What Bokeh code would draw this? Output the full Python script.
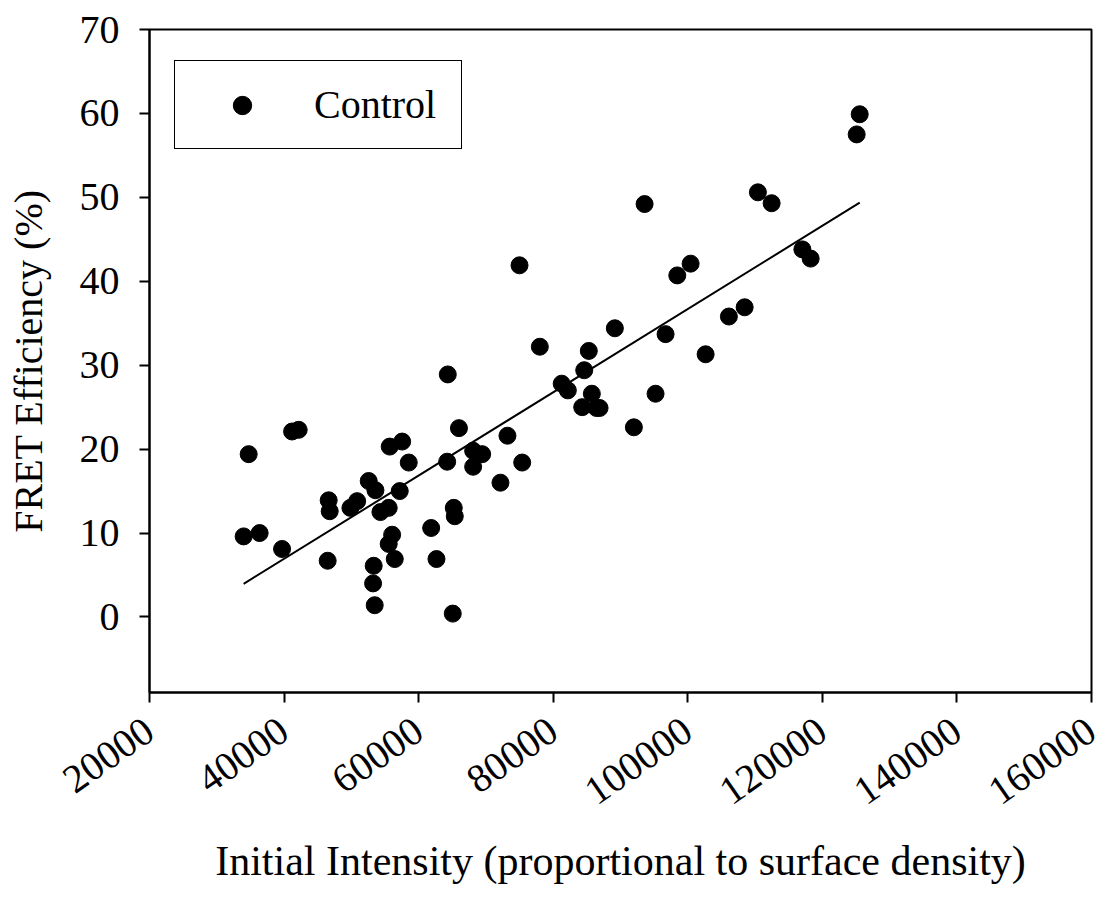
import numpy as np
from bokeh.plotting import figure
from bokeh.models import Range1d, FixedTicker, Legend, LegendItem, NumeralTickFormatter
from bokeh.embed import file_html
from bokeh.resources import INLINE

# ---- data ----
intensity = [33990, 34740, 36370, 39700, 41190, 42170, 46480, 46630, 46780, 49860,
             50860, 52580, 53580, 53320, 53230, 53470, 54320, 55550, 55700, 55550,
             56060, 56450, 57190, 57550, 58530, 61860, 62650, 64330, 64240, 65220,
             65370, 65070, 65990, 68100, 68100, 69440, 72160, 73200, 74990, 75390,
             78010, 81260, 82170, 84310, 84610, 85290, 85740, 86440, 86890, 89160,
             91990, 93580, 95210, 96700, 98440, 100420, 102650, 106110, 108450, 110420,
             112460, 117030, 118260, 125100, 125550]
fret = [9.6, 19.4, 10.0, 8.1, 22.1, 22.3, 6.7, 13.9, 12.6, 13.0,
        13.8, 16.2, 15.1, 6.1, 4.0, 1.4, 12.5, 13.0, 20.3, 8.7,
        9.8, 6.9, 15.0, 20.9, 18.4, 10.6, 6.9, 28.9, 18.5, 13.0,
        12.0, 0.4, 22.5, 19.8, 17.9, 19.4, 16.0, 21.6, 41.9, 18.4,
        32.2, 27.8, 27.0, 25.0, 29.4, 31.7, 26.6, 24.9, 24.9, 34.4,
        22.6, 49.2, 26.6, 33.7, 40.7, 42.1, 31.3, 35.8, 36.9, 50.6,
        49.3, 43.8, 42.7, 57.5, 59.9]
series_name = "Control"
x_ticks = [20000, 40000, 60000, 80000, 100000, 120000, 140000, 160000]
y_ticks = [0, 10, 20, 30, 40, 50, 60, 70]

# linear regression of the data
slope, intercept = np.polyfit(intensity, fret, 1)
fit_x = [min(intensity), max(intensity)]
fit_y = [slope * v + intercept for v in fit_x]

FONT = "Liberation Serif"

p = figure(width=1103, height=898, output_backend="svg", toolbar_location=None,
           x_range=Range1d(20000, 160000), y_range=Range1d(-9, 70),
           min_border_left=149, min_border_right=12, min_border_top=29, min_border_bottom=206)
p.background_fill_color = "white"
p.border_fill_color = "white"
p.grid.visible = False
p.outline_line_color = "black"
p.outline_line_width = 2
p.outline_line_alpha = 1.0

pts = p.scatter(intensity, fret, size=17, color="black", line_color="black")
p.line(fit_x, fit_y, line_color="black", line_width=2)

for ax in (p.xaxis[0], p.yaxis[0]):
    ax.axis_line_width = 2
    ax.axis_line_color = "black"
    ax.major_tick_line_width = 2
    ax.major_tick_line_color = "black"
    ax.major_tick_in = 0
    ax.major_tick_out = 10
    ax.minor_tick_line_color = None
    ax.major_label_text_font = FONT
    ax.major_label_text_font_size = "40px"
    ax.major_label_text_color = "black"
    ax.axis_label_text_font = FONT
    ax.axis_label_text_font_style = "normal"
    ax.axis_label_text_color = "black"

p.xaxis.axis_label_text_font_size = "42px"
p.yaxis.axis_label_text_font_size = "40px"
p.xaxis.ticker = FixedTicker(ticks=x_ticks)
p.yaxis.ticker = FixedTicker(ticks=y_ticks)
p.xaxis.formatter = NumeralTickFormatter(format="0")
p.yaxis.formatter = NumeralTickFormatter(format="0")
p.xaxis.major_label_orientation = 0.61
p.xaxis.major_label_standoff = 24
p.yaxis.major_label_standoff = 20
p.xaxis.axis_label = "Initial Intensity (proportional to surface density)"
p.yaxis.axis_label = "FRET Efficiency (%)"
p.xaxis.axis_label_standoff = 18
p.yaxis.axis_label_standoff = 26

legend = Legend(items=[LegendItem(label=series_name, renderers=[pts])],
                location=(25, 543), padding=20, margin=0, spacing=0,
                glyph_width=94, glyph_height=46, label_height=46, label_width=127,
                label_standoff=25,
                label_text_font=FONT, label_text_font_size="40px", label_text_color="black",
                border_line_color="black", border_line_width=1.5, border_line_alpha=1.0,
                background_fill_color="white", background_fill_alpha=1.0)
p.add_layout(legend, "center")

open("out.html", "w").write(file_html(p, INLINE))
